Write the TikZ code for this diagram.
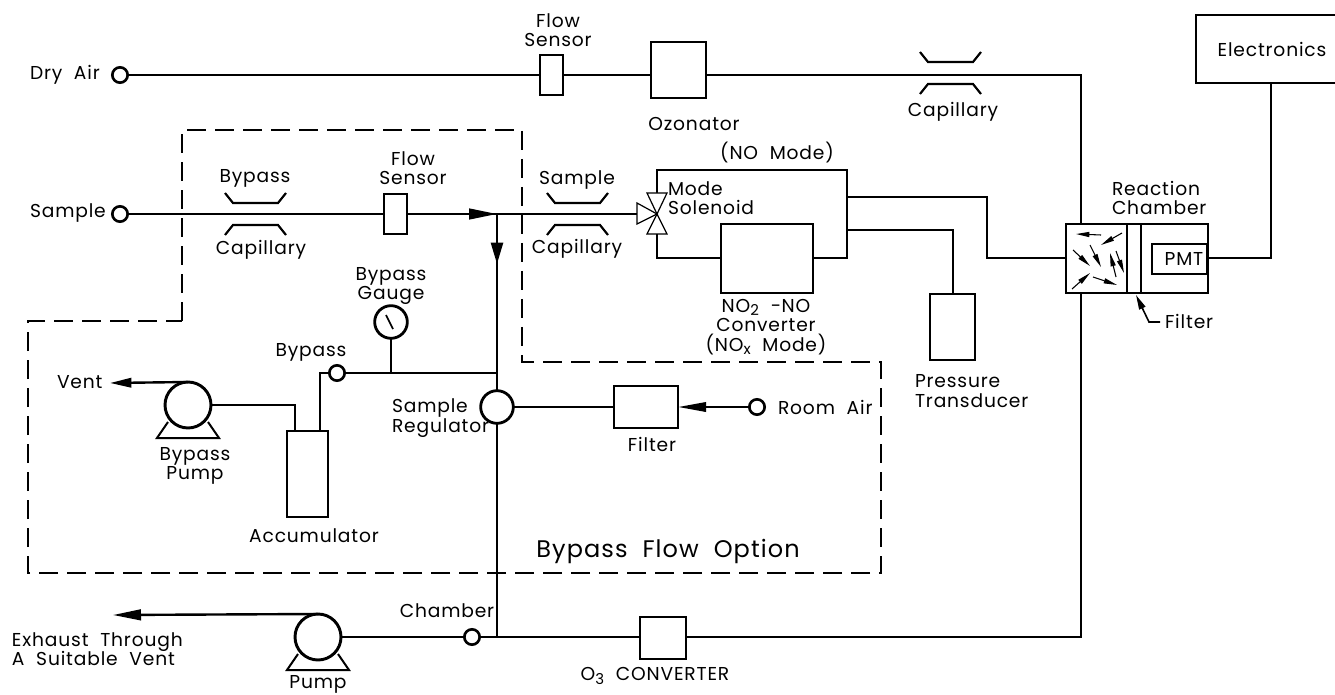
\documentclass[tikz,border=0pt]{standalone}
\usepackage{fontspec}
\setmainfont{Poppins}[WordSpace=2.0,LetterSpace=4.5]
\usetikzlibrary{arrows.meta,calc}
\newcommand{\lowsub}[1]{\raisebox{-0.35ex}{\scalebox{0.8}{#1}}}
\newcommand{\capsym}[2]{%
  \draw[capil] ($(#1,#2)+(-30,-21)$) -- ($(#1,#2)+(-22,-11)$) -- ($(#1,#2)+(23,-11)$) -- ($(#1,#2)+(31,-21)$);
  \draw[capil] ($(#1,#2)+(-30,21)$) -- ($(#1,#2)+(-22,11)$) -- ($(#1,#2)+(23,11)$) -- ($(#1,#2)+(31,21)$);
}
\tikzset{
  x=0.75pt,y=-0.75pt,
  pipe/.style={line width=1.8pt,line join=miter},
  boxn/.style={draw,line width=1.7pt,inner sep=0pt,outer sep=0pt,fill=white},
  portn/.style={draw,circle,line width=2pt,inner sep=0pt,outer sep=0pt,minimum size=11.5pt,fill=white},
  pumpn/.style={draw,circle,line width=2.2pt,inner sep=0pt,outer sep=0pt,minimum size=34.5pt,fill=white},
  regn/.style={draw,circle,line width=2.1pt,inner sep=0pt,outer sep=0pt,minimum size=24.5pt,fill=white},
  lab/.style={inner sep=0pt,outer sep=0pt,font=\fontsize{14}{14.7}\selectfont,align=center},
  labl/.style={lab,align=left,anchor=west},
  capil/.style={line width=1.6pt},
  thinv/.style={line width=0.9pt,fill=white},
  bigarrow/.style={-{Triangle[length=21pt,width=8pt]},pipe},
  midarrow/.style={-{Triangle[length=16pt,width=7pt]},pipe},
  tinyarrow/.style={-{Triangle[length=10pt,width=3.8pt]},line width=0.8pt},
  dashb/.style={line width=1.1pt,dash pattern=on 14.5pt off 6.5pt},
}
\begin{document}
\begin{tikzpicture}
\useasboundingbox (0,0) rectangle (1335,695);
% dashed outline
\draw[dashb] (182,321) -- (182,130) -- (522,130) -- (522,362) -- (881,362) -- (881,573) -- (28,573) -- (28,321) -- cycle;

% coordinates for bends
\coordinate (tee) at (497,214);
\coordinate (o3corner) at (1081,75);
\coordinate (ecorner) at (1271,258);
\coordinate (botcorner) at (1081,637);
\coordinate (teeB) at (497,637);
\coordinate (teeBy) at (497,373);
\coordinate (teeG) at (391,373);
\coordinate (bycorner) at (320,373);
\coordinate (pcorner) at (295,405);
\coordinate (nomodeL) at (657,170);
\coordinate (nomodeR) at (847,170);
\coordinate (convR) at (847,258);
\coordinate (convL) at (657,258);
\coordinate (valve) at (657,214);
\coordinate (valveIn) at (637,214);
\coordinate (valveUp) at (657,193);
\coordinate (valveDn) at (657,234);
\coordinate (outA) at (847,197);
\coordinate (outAb) at (987,197);
\coordinate (outB) at (847,230);
\coordinate (outBb) at (953,230);
\coordinate (cmid) at (987,258);

% nodes
\node[portn] (dry) at (120,75) {};
\node[boxn,minimum width=17pt,minimum height=30pt] (fs1) at (551.5,75) {};
\node[boxn,minimum width=41pt,minimum height=42pt] (ozon) at (678.5,70) {};
\node[portn] (sample) at (120,214) {};
\node[boxn,minimum width=17pt,minimum height=30pt] (fs2) at (395.5,214) {};
\node[boxn,minimum width=69pt,minimum height=52pt] (conv) at (767,258.5) {};
\node[boxn,minimum width=33.5pt,minimum height=50pt] (ptrans) at (952.5,327) {};
\node[boxn,minimum width=106.5pt,minimum height=52pt] (chamber) at (1137,258.5) {};
\node[boxn,minimum width=41pt,minimum height=22.5pt,anchor=east] (pmt) at (1207,259) {};
\node[boxn,minimum width=31pt,minimum height=64pt] (accum) at (307.5,474) {};
\node[pumpn] (bpump) at (188,405) {};
\node[regn] (gauge) at (391,322) {};
\node[portn] (byport) at (337,373) {};
\node[regn] (reg) at (497,407) {};
\node[boxn,minimum width=48pt,minimum height=31pt] (filter) at (646,407) {};
\node[portn] (room) at (757,407) {};
\node[pumpn] (pump) at (318,637) {};
\node[portn] (champ) at (472,637) {};
\node[boxn,minimum width=34.5pt,minimum height=32pt] (o3) at (663,638) {};

% Electronics box (open at picture edge)
\coordinate (elTL) at (1335,15);
\coordinate (elBL) at (1335,83);
\coordinate (elTR) at (1196,15);
\coordinate (elBR) at (1196,83);
\coordinate (elOut) at (1271,83);
\draw[pipe] (elTL) -- (elTR) -- (elBR) -- (elBL);

% pipes
\draw[pipe] (dry) -- (fs1);
\draw[pipe] (fs1) -- (ozon.west |- fs1);
\draw[pipe] (ozon.east |- fs1) -- (o3corner) -- (chamber.north -| o3corner);
\draw[pipe] (chamber.east |- ecorner) -- (ecorner) -- (elOut);
\draw[pipe] (chamber.south -| o3corner) -- (botcorner) -- (o3.east |- botcorner);
\draw[pipe] (o3.west |- botcorner) -- (champ);
\draw[pipe] (champ) -- (pump);
\draw[pipe] (sample) -- (fs2);
\draw[pipe] (fs2) -- (valveIn);
\draw[pipe] (tee) -- (reg);
\draw[pipe] (reg) -- (teeB);
\draw[pipe] (teeBy) -- (byport);
\draw[pipe] (byport) -- (bycorner) -- (bycorner |- accum.north);
\draw[pipe] (gauge) -- (teeG);
\draw[pipe] (bpump.east) -- (pcorner) -- (pcorner |- accum.north);
\draw[pipe] (reg) -- (filter);
\draw[pipe] (valveUp) -- (nomodeL) -- (nomodeR) -- (convR) -- (conv.east |- convR);
\draw[pipe] (valveDn) -- (convL) -- (conv.west |- convL);
\draw[pipe] (outA) -- (outAb) -- (cmid) -- (chamber.west |- cmid);
\draw[pipe] (outB) -- (outBb) -- (ptrans.north -| outBb);

% gauge needle
\draw[line width=1.3pt] ($(gauge)+(-5,-7)$) -- ($(gauge)+(2,7)$);

% flow arrows
\coordinate (arrR) at (466,214);
\draw[bigarrow] (arrR) -- (tee);
\coordinate (arrD) at (497,240);
\coordinate (arrDt) at (497,264);
\draw[-{Triangle[length=16pt,width=9pt]},pipe] (arrD) -- (arrDt);
\draw[-{Triangle[length=21pt,width=7pt]},pipe] (room) -- (filter.east |- room);
\coordinate (ventEnd) at (110,383);
\draw[midarrow] (bpump.north) -- (ventEnd);
\coordinate (exhEnd) at (113,615);
\draw[bigarrow] (pump.north) -- (exhEnd);

% pump feet
\foreach \pc in {pump,bpump}{
  \draw[line width=1.5pt,line join=miter] ($(\pc)+(-20,17)$) -- ($(\pc)+(-31,33)$) -- ($(\pc)+(31,33)$) -- ($(\pc)+(20,17)$);
}

% capillaries
\capsym{577}{214}
\capsym{255}{214}
\capsym{950}{73}

% valve
\draw[thinv] (valve) -- (637,203) -- (637,224) -- cycle;
\draw[thinv] (valve) -- (647,193) -- (667,193) -- cycle;
\draw[thinv] (valve) -- (647,234) -- (667,234) -- cycle;

% chamber internals
\coordinate (f1t) at (1127,224);
\coordinate (f1b) at (1127,293);
\coordinate (f2t) at (1141,224);
\coordinate (f2b) at (1141,293);
\draw[line width=1.4pt] (f1t) -- (f1b);
\draw[line width=1.4pt] (f2t) -- (f2b);
\draw[tinyarrow] (1101,235) -- (1076,234);
\draw[tinyarrow] (1122,233) -- (1101,245);
\draw[tinyarrow] (1073,250) -- (1090,266);
\draw[tinyarrow] (1090,245) -- (1101,267);
\draw[tinyarrow] (1116,277) -- (1110,253);
\draw[tinyarrow] (1116,251) -- (1124,273);
\draw[tinyarrow] (1072,289) -- (1090,273);
\draw[tinyarrow] (1093,277) -- (1117,285);
\coordinate (fa0) at (1160,322);
\coordinate (fa1) at (1149,322);
\coordinate (fa2) at (1136,295);
\draw[-{Triangle[length=11pt,width=5pt]},line width=1.2pt] (fa0) -- (fa1) -- (fa2);

% labels
\node[labl] (t1) at (30,75) {Dry Air};
\node[lab] (t2) at (558,30) {Flow\\Sensor};
\node[lab] (t3) at (694,124) {Ozonator};
\node[lab] (t4) at (953,112) {Capillary};
\node[lab] (t5) at (1272,49) {Electronics};
\node[labl] (t6) at (1112,198) {Reaction\\Chamber};
\node[lab] (t7) at (1184,259) {PMT};
\node[labl] (t8) at (1165,321) {Filter};
\node[lab] (t9) at (777,153) {(NO Mode)};
\node[labl] (t10) at (668,198) {Mode\\Solenoid};
\node[lab] (t11) at (577,180) {Sample};
\node[lab] (t12) at (577,249) {Capillary};
\node[lab] (t13) at (255,178) {Bypass};
\node[lab] (t14) at (261,250) {Capillary};
\node[lab] (t15) at (413,168) {Flow\\Sensor};
\node[labl] (t16) at (30,213) {Sample};
\node[lab] (t17) at (766,327) {NO\lowsub{2} −NO\\Converter\\(NO\lowsub{x} Mode)};
\node[lab] (t18) at (391,286) {Bypass\\Gauge};
\node[lab] (t19) at (311,352) {Bypass};
\node[labl] (t20) at (392,418) {Sample\\Regulator};
\node[lab] (t21) at (652,444) {Filter};
\node[labl] (t22) at (778,407) {Room Air};
\node[labl] (t23) at (915,391) {Pressure\\Transducer};
\node[labl] (t24) at (57,382) {Vent};
\node[lab] (t25) at (195,466) {Bypass\\Pump};
\node[lab] (t26) at (314,536) {Accumulator};
\node[lab,font=\fontsize{18}{20}\selectfont] (t27) at (668,551) {Bypass Flow Option};
\node[lab] (t28) at (447,611) {Chamber};
\node[labl] (t29) at (12,649) {Exhaust Through\\A Suitable Vent};
\node[lab] (t30) at (318,684) {Pump};
\node[lab] (t31) at (655,676) {O\lowsub{3} CONVERTER};
\end{tikzpicture}
\end{document}
